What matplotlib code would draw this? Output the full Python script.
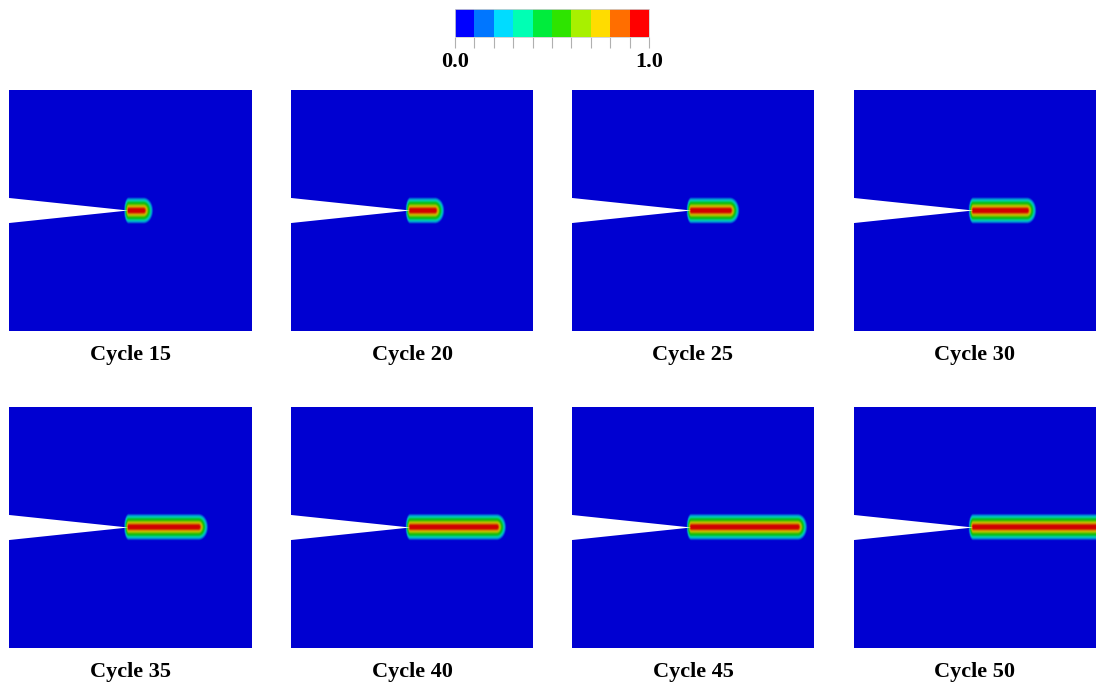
import numpy as np
import matplotlib
matplotlib.use("Agg")
import matplotlib.pyplot as plt
from matplotlib.colors import ListedColormap, LinearSegmentedColormap

# Phase-field damage snapshots for a notched plate
cycles = [15, 20, 25, 30, 35, 40, 45, 50]
crack_tip = [0.554, 0.595, 0.653, 0.715, 0.781, 0.851, 0.934, 1.02]  # x of the damaged band end
notch_tip = 0.492
notch_half_open = 0.052

level_colors = ['#0000ff', '#0076ff', '#00dcff', '#00ffb4', '#00ec3c',
                '#2ee400', '#a8f000', '#ffdc00', '#ff6e00', '#ff0000']

plt.rcParams['font.family'] = ['Liberation Serif', 'DejaVu Serif']

W, H = 1098, 687
fig = plt.figure(figsize=(W / 100, H / 100), dpi=100)


def rect(x, y, w, h):
    return [x / W, 1 - (y + h) / H, w / W, h / H]


# shaded field colours (a bit darker than the legend)
shade = 0.82
field_cmap = LinearSegmentedColormap.from_list(
    'field', [tuple(c * shade for c in matplotlib.colors.to_rgb(k)) for k in level_colors])

n = 360
xs = np.linspace(0, 1, n)
X, Y = np.meshgrid(xs, xs)


def damage(tip):
    dx = np.where(X < notch_tip, (notch_tip - X) * 3.0,
                  np.where(X > tip, (X - tip) * 1.4, 0.0))
    d = np.sqrt(dx ** 2 + (Y - 0.5) ** 2)
    return np.clip(1 - np.maximum(d - 0.006, 0) / 0.05, 0, 1)


col_x = [9, 291, 572, 854]
row_y = [90, 407]
pw, ph = 242, 241
label_y = [355, 672]

for i, (cyc, tip) in enumerate(zip(cycles, crack_tip)):
    r, c = divmod(i, 4)
    ax = fig.add_axes(rect(col_x[c], row_y[r], pw, ph))
    ax.imshow(damage(tip), extent=[0, 1, 0, 1], origin='lower', cmap=field_cmap,
              vmin=0, vmax=1, interpolation='bilinear', aspect='auto')
    # initial notch
    ax.fill([0, notch_tip, 0], [0.5 + notch_half_open, 0.5, 0.5 - notch_half_open],
            color='white', lw=0)
    ax.set_xlim(0, 1)
    ax.set_ylim(0, 1)
    ax.axis('off')
    fig.text((col_x[c] + pw / 2) / W, 1 - label_y[r] / H, f'Cycle {cyc}',
             ha='center', va='center', fontsize=16, fontweight='bold')

# legend bar
cax = fig.add_axes(rect(455, 9, 194, 28))
cax.imshow(np.arange(10)[None, :], extent=[0, 1, 0, 1], cmap=ListedColormap(level_colors),
           aspect='auto', interpolation='nearest')
cax.set_xlim(0, 1)
cax.set_ylim(0, 1)
cax.set_yticks([])
cax.set_xticks(np.linspace(0, 1, 11))
cax.set_xticklabels(['0.0'] + [''] * 9 + ['1.0'], fontsize=16, fontweight='bold')
cax.tick_params(axis='x', direction='out', length=8, width=0.8, color='#b0b0b0', pad=3)
for s in cax.spines.values():
    s.set_color('#d0d0d0')
    s.set_linewidth(0.6)

fig.savefig('out.png', dpi=100)
